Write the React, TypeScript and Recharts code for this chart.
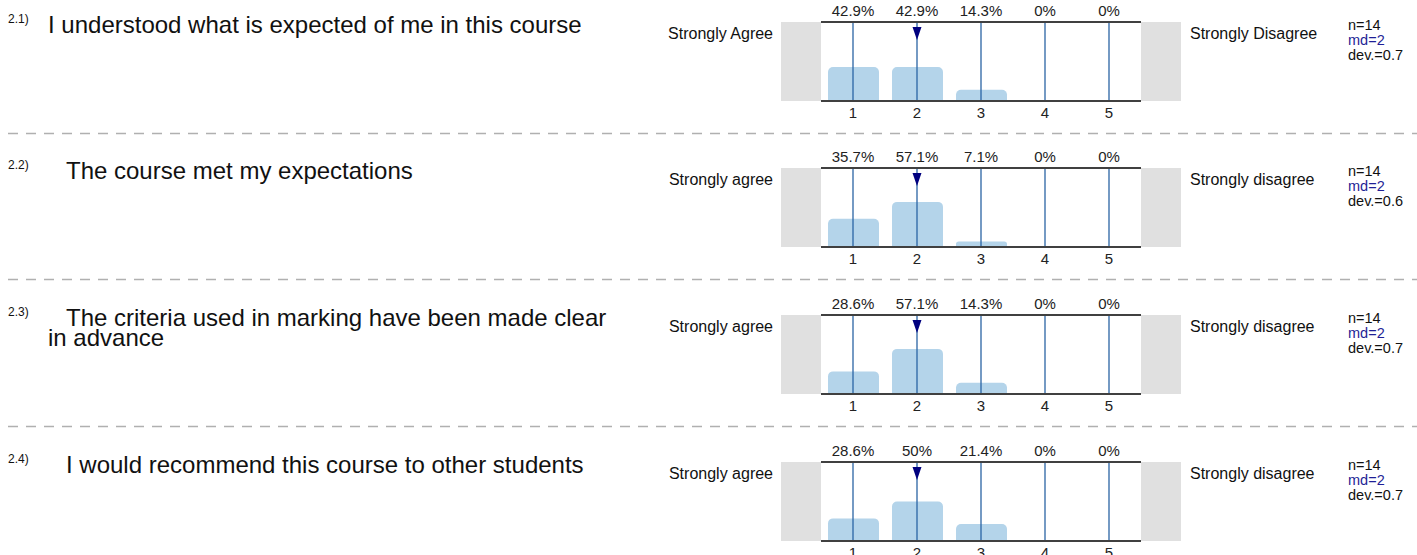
import React from "react";
import { BarChart, Bar, XAxis, YAxis, ReferenceLine, ReferenceDot } from "recharts";

const categories = ["1", "2", "3", "4", "5"];
const questionNumbers = ["2.1)", "2.2)", "2.3)", "2.4)"];
const questionTexts = [
  "I understood what is expected of me in this course",
  "The course met my expectations",
  "The criteria used in marking have been made clear in advance",
  "I would recommend this course to other students",
];
const leftLabels = ["Strongly Agree", "Strongly agree", "Strongly agree", "Strongly agree"];
const rightLabels = ["Strongly Disagree", "Strongly disagree", "Strongly disagree", "Strongly disagree"];
const q1Percent = [42.9, 42.9, 14.3, 0, 0];
const q2Percent = [35.7, 57.1, 7.1, 0, 0];
const q3Percent = [28.6, 57.1, 14.3, 0, 0];
const q4Percent = [28.6, 50, 21.4, 0, 0];
const percents = [q1Percent, q2Percent, q3Percent, q4Percent];
const medians = ["2", "2", "2", "2"];
const counts = [14, 14, 14, 14];
const deviations = [0.7, 0.6, 0.7, 0.7];

const rowTops = [0, 146, 293, 440];
const FONT = '"Liberation Sans", Arial, sans-serif';

function Arrow(props: any) {
  const { cx, cy } = props;
  return (
    <polygon
      points={`${cx - 4.5},${cy + 5} ${cx + 4.5},${cy + 5} ${cx},${cy + 18}`}
      fill="#00007f"
    />
  );
}

function Row({ index }: { index: number }) {
  const top = rowTops[index];
  const values = percents[index];
  const data = categories.map((c, i) => ({ cat: c, value: values[i] }));
  const indent = index === 0 ? 0 : 18;

  return (
    <>
      <div style={{ position: "absolute", left: 8, top: top + 13, fontSize: 12, lineHeight: "12px" }}>
        {questionNumbers[index]}
      </div>
      <div
        style={{
          position: "absolute",
          left: 48,
          top: top + 14.7,
          width: 580,
          fontSize: 24,
          lineHeight: "20px",
          textIndent: indent,
          color: "#111",
        }}
      >
        {questionTexts[index]}
      </div>
      <div
        style={{
          position: "absolute",
          left: 560,
          width: 213,
          top: top + 25.5,
          fontSize: 16,
          lineHeight: "16px",
          textAlign: "right",
        }}
      >
        {leftLabels[index]}
      </div>
      <div style={{ position: "absolute", left: 1190, top: top + 25.5, fontSize: 16, lineHeight: "16px" }}>
        {rightLabels[index]}
      </div>
      <div style={{ position: "absolute", left: 1348, top: top + 17.5, fontSize: 14.5, lineHeight: "15px" }}>
        <div>n={counts[index]}</div>
        <div style={{ color: "#1f1f96" }}>md={medians[index]}</div>
        <div>dev.={deviations[index]}</div>
      </div>
      <div style={{ position: "absolute", left: 781, top: top + 22, width: 40, height: 79, background: "#e0e0e0" }} />
      <div style={{ position: "absolute", left: 1141, top: top + 22, width: 40, height: 79, background: "#e0e0e0" }} />
      <div style={{ position: "absolute", left: 781, top }}>
        <BarChart
          width={400}
          height={125}
          data={data}
          margin={{ top: 0, right: 40, bottom: 0, left: 40 }}
          barCategoryGap="20%"
        >
          <XAxis
            xAxisId="top"
            orientation="top"
            dataKey="cat"
            height={22}
            tickLine={false}
            tickSize={4}
            tickMargin={2}
            axisLine={{ stroke: "#404040", strokeWidth: 2 }}
            tick={{ fill: "#222", fontSize: 15, fontFamily: FONT }}
            tickFormatter={(_v: any, i: number) => `${values[i]}%`}
          />
          <XAxis
            dataKey="cat"
            height={24}
            tickLine={false}
            tickSize={4}
            tickMargin={2}
            axisLine={{ stroke: "#404040", strokeWidth: 2 }}
            tick={{ fill: "#222", fontSize: 15, fontFamily: FONT }}
          />
          <YAxis hide domain={[0, 100]} />
          <Bar dataKey="value" fill="#b4d4ea" barSize={51} radius={[5, 5, 0, 0]} isAnimationActive={false} />
          {categories.map((c) => (
            <ReferenceLine key={c} x={c} stroke="#2a64a4" strokeWidth={1.3} />
          ))}
          <ReferenceDot x={medians[index]} y={100} ifOverflow="visible" shape={Arrow} />
        </BarChart>
      </div>
      {index < 3 && (
        <svg style={{ position: "absolute", left: 0, top: top + 132 }} width={1417} height={3}>
          <line x1={8} x2={1417} y1={1.5} y2={1.5} stroke="#b0b0b0" strokeWidth={1.5} strokeDasharray="10 8" />
        </svg>
      )}
    </>
  );
}

export default function App() {
  return (
    <div
      style={{
        position: "absolute",
        left: 0,
        top: 0,
        width: 1417,
        height: 555,
        overflow: "hidden",
        background: "#fff",
        fontFamily: FONT,
        color: "#111",
      }}
    >
      {questionTexts.map((_q, i) => (
        <Row key={i} index={i} />
      ))}
    </div>
  );
}
